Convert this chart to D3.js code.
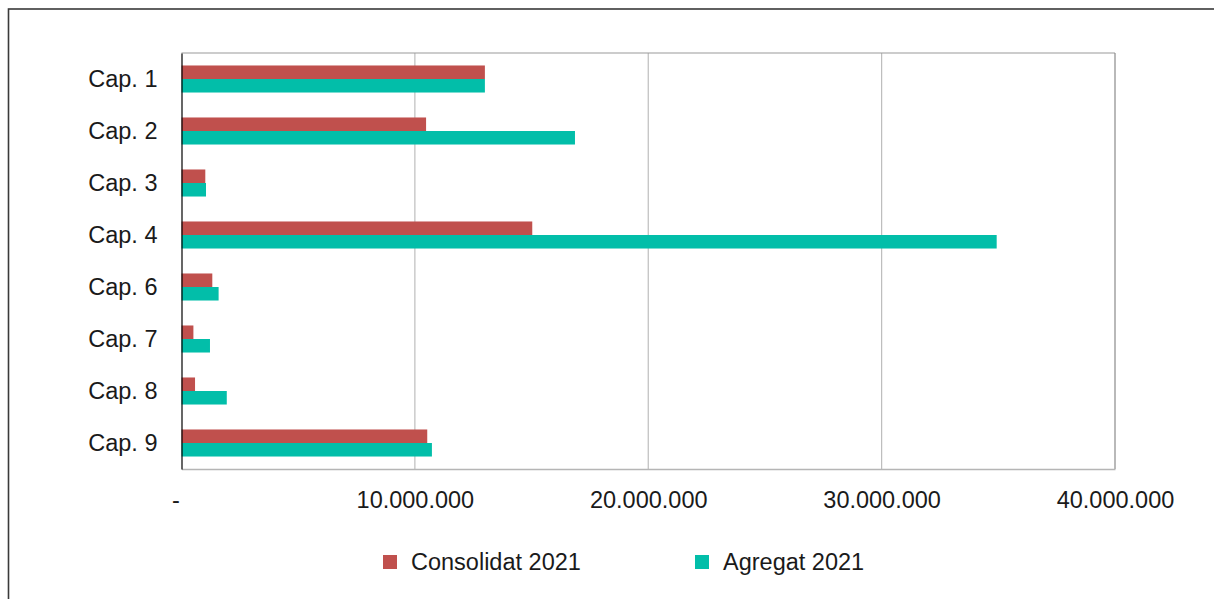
<!DOCTYPE html>
<html>
<head>
<meta charset="utf-8">
<script src="https://cdn.jsdelivr.net/npm/d3@7"></script>
<style>
html,body{margin:0;padding:0;background:#fff;}
svg{display:block;}
text{font-family:"Liberation Sans",Arial,sans-serif;fill:#1a1a1a;}
</style>
</head>
<body>
<svg id="chart" width="1214" height="599"></svg>
<script>
const categories = ["Cap. 1","Cap. 2","Cap. 3","Cap. 4","Cap. 6","Cap. 7","Cap. 8","Cap. 9"];
const seriesNames = ["Consolidat 2021","Agregat 2021"];
const consolidat = [13000000,10480000,1020000,15030000,1320000,510000,580000,10530000];
const agregat = [13000000,16860000,1050000,34930000,1590000,1220000,1940000,10730000];
const tickValues = [0,10000000,20000000,30000000,40000000];
const tickLabels = ["-","10.000.000","20.000.000","30.000.000","40.000.000"];
const colors = ["#C0504D","#02BEA9"];

const svg = d3.select("#chart");
const plot = {left:181.5, right:1115, top:53, bottom:469};
const FS = 23.5;

// outer frame
svg.append("rect").attr("x",8.5).attr("y",9).attr("width",1300).attr("height",700)
  .attr("fill","none").attr("stroke","#3a3a3a").attr("stroke-width",1.6);

const x = d3.scaleLinear().domain([0,40000000]).range([plot.left, plot.right]);
const y = d3.scaleBand().domain(categories).range([plot.top, plot.bottom]).paddingInner(0.48).paddingOuter(0.24);
const yInner = d3.scaleBand().domain(seriesNames).range([0, y.bandwidth()]);

// gridlines
svg.append("g").selectAll("line").data(tickValues.slice(1,-1)).join("line")
  .attr("x1",d=>x(d)).attr("x2",d=>x(d)).attr("y1",plot.top).attr("y2",plot.bottom)
  .attr("stroke","#bdbdbd").attr("stroke-width",1.2);

// frame top/right
svg.append("line").attr("x1",plot.left).attr("x2",plot.right).attr("y1",plot.top).attr("y2",plot.top).attr("stroke","#999").attr("stroke-width",1.2);
svg.append("line").attr("x1",plot.right).attr("x2",plot.right).attr("y1",plot.top).attr("y2",plot.bottom).attr("stroke","#8a8a8a").attr("stroke-width",1.2);

// bars
const data = categories.map((c,i)=>({cat:c, vals:[consolidat[i], agregat[i]]}));
const g = svg.append("g");
g.selectAll("g").data(data).join("g")
  .attr("transform",d=>`translate(0,${y(d.cat)})`)
  .selectAll("rect").data(d=>d.vals.map((v,j)=>({name:seriesNames[j], v, j}))).join("rect")
  .attr("x",x(0)).attr("y",d=>yInner(d.name)).attr("height",yInner.bandwidth())
  .attr("width",d=>x(d.v)-x(0)).attr("fill",d=>colors[d.j]);

// x axis
const xAxis = d3.axisBottom(x).tickValues(tickValues).tickFormat((d,i)=>tickLabels[i]).tickSize(0).tickPadding(22);
const xg = svg.append("g").attr("transform",`translate(0,${plot.bottom})`).call(xAxis);
xg.select(".domain").attr("stroke","#b5b5b5").attr("stroke-width",1.5);
xg.selectAll("text").attr("font-size",FS).attr("font-family","Liberation Sans, Arial, sans-serif").attr("fill","#1a1a1a");
xg.selectAll(".tick").filter((d,i)=>i===0).select("text").attr("dx",-6);

// y axis
const yAxis = d3.axisLeft(y).tickSize(0).tickPadding(24);
const yg = svg.append("g").attr("transform",`translate(${plot.left},0)`).call(yAxis);
yg.select(".domain").attr("stroke","#000").attr("stroke-width",1.2);
yg.selectAll("text").attr("font-size",FS).attr("font-family","Liberation Sans, Arial, sans-serif").attr("fill","#1a1a1a");

// legend
const legendX = [383, 695];
const lg = svg.append("g");
seriesNames.forEach((n,i)=>{
  lg.append("rect").attr("x",legendX[i]).attr("y",555).attr("width",14).attr("height",14).attr("fill",colors[i]);
  lg.append("text").attr("x",legendX[i]+28).attr("y",570).attr("font-size",FS).text(n);
});
</script>
</body>
</html>
